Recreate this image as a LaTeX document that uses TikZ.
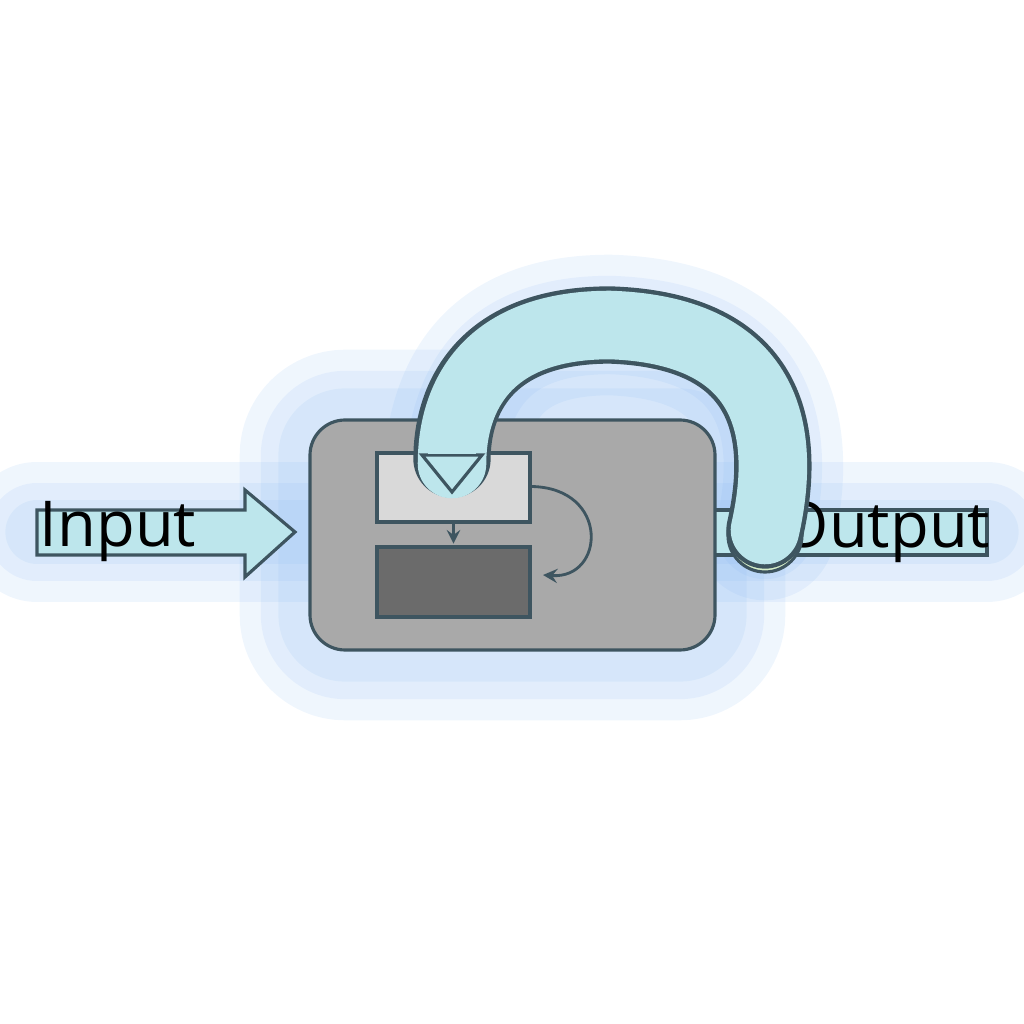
\documentclass[tikz,border=0pt]{standalone}
\usepackage{fontspec}
\setmainfont{Open Sans}
\usepackage{xcolor}
\definecolor{cyanfill}{HTML}{BDE6EC}
\definecolor{edge}{HTML}{3E5560}
\definecolor{glow}{HTML}{7FB2F0}
\definecolor{boxgray}{HTML}{A9A9A9}
\definecolor{lightgray}{HTML}{D9D9D9}
\definecolor{darkgray}{HTML}{6B6B6B}
\definecolor{greenfill}{HTML}{D5EEC8}
\begin{document}
\begin{tikzpicture}[x=1cm,y=1cm,
  edgeline/.style={draw=edge, line width=0.9pt},
  glowline/.style={glow, opacity=0.12, line join=round, line cap=round}]
\useasboundingbox (0,0) rectangle (10.24,10.24);

% soft glow behind
\foreach \w in {40,28,18} {
  \draw[glowline, line width=\w pt] (0.37,4.92) -- (9.87,4.92);
  \draw[glowline, line width=\w pt, rounded corners=10pt] (3.10,3.74) rectangle (7.15,6.04);
  \draw[glowline, line width=\w pt] (7.65,4.94) .. controls (7.9,6.04) and (7.6,6.94) .. (6.1,6.99) .. controls (4.8,6.99) and (4.52,6.2) .. (4.52,5.2);
}

% input arrow
\draw[edgeline, fill=cyanfill] (0.37,4.69) -- (2.45,4.69) -- (2.45,4.47) -- (2.95,4.92) -- (2.45,5.34) -- (2.45,5.14) -- (0.37,5.14) -- cycle;
\node (input) at (1.18,4.92) {\fontsize{18pt}{20pt}\selectfont Input};

% output band
\draw[edgeline, fill=cyanfill] (7.10,4.69) rectangle (9.87,5.14);
\node (output) at (8.85,4.92) {\fontsize{18pt}{20pt}\selectfont Output};

% main box
\draw[edgeline, fill=boxgray, rounded corners=10pt] (3.10,3.74) rectangle (7.15,6.04);
\node[edgeline, fill=lightgray, minimum width=1.53cm, minimum height=0.69cm, inner sep=0pt] (upper) at (4.535,5.365) {};
\node[edgeline, fill=darkgray, minimum width=1.53cm, minimum height=0.70cm, inner sep=0pt] (lower) at (4.535,4.42) {};
\draw[edge, line width=0.7pt, -stealth] (upper.south) -- ++(0,-0.2);
\draw[edge, line width=0.8pt, -stealth] (upper.east) ++(0,0.01) .. controls (6.1,5.36) and (6.05,4.45) .. (5.43,4.49);

% green circle
\node[circle, edgeline, fill=greenfill, minimum size=0.74cm] (mix) at (7.65,4.89) {};

% feedback tube
\draw[edge, line width=22pt, line cap=round] (7.65,4.94) .. controls (7.9,6.04) and (7.6,6.94) .. (6.1,6.99) .. controls (4.8,6.99) and (4.52,6.2) .. (4.52,5.65);
\draw[cyanfill, line width=19.5pt, line cap=round] (7.65,4.94) .. controls (7.9,6.04) and (7.6,6.94) .. (6.1,6.99) .. controls (4.8,6.99) and (4.52,6.2) .. (4.52,5.6);
\draw[edgeline, fill=cyanfill] (4.22,5.69) -- (4.52,5.32) -- (4.82,5.69) -- cycle;
\fill[cyanfill] (4.28,5.70) rectangle (4.76,5.85);
\end{tikzpicture}
\end{document}
